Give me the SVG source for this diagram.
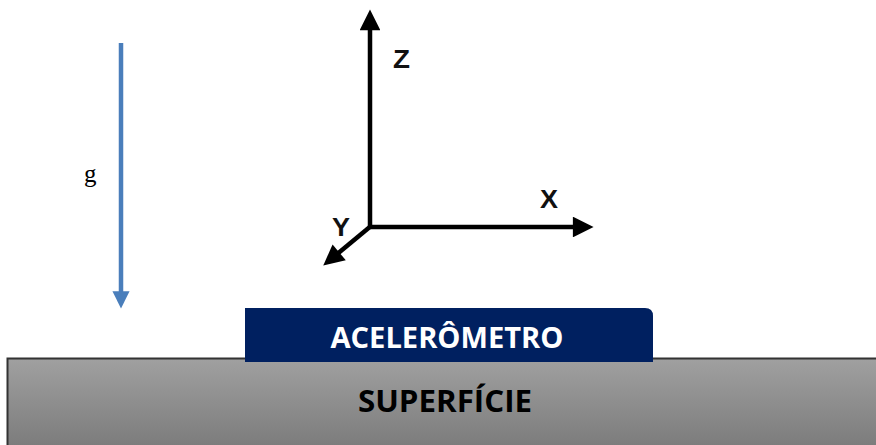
<svg xmlns="http://www.w3.org/2000/svg" width="876" height="445" viewBox="0 0 876 445">
<style>
.axis{stroke:#000;stroke-width:4.5;fill:none}
.ax{font-family:"Liberation Sans",Arial,sans-serif;font-size:25px;font-weight:bold;fill:#111}
.lbl{font-family:"Open Sans","Liberation Sans",sans-serif;font-weight:bold}
</style>
<defs>
<linearGradient id="gs" x1="0" y1="0" x2="0" y2="1">
<stop offset="0" stop-color="#a0a0a0"/>
<stop offset="1" stop-color="#777"/>
</linearGradient>
<marker id="ah" viewBox="0 0 10 10" refX="2" refY="5" markerWidth="5" markerHeight="4.6" markerUnits="strokeWidth" orient="auto"><path d="M0,0 L10,5 L0,10 z" fill="#000"/></marker>
<marker id="ab" viewBox="0 0 10 10" refX="1" refY="5" markerWidth="4" markerHeight="3.8" markerUnits="strokeWidth" orient="auto"><path d="M0,0 L10,5 L0,10 z" fill="#4a7ebb"/></marker>
</defs>
<g id="superficie">
<rect x="7.5" y="358.5" width="880" height="100" fill="url(#gs)" stroke="#333" stroke-width="2"/>
<text class="lbl" x="445" y="412" font-size="30" fill="#000" text-anchor="middle" textLength="174" lengthAdjust="spacingAndGlyphs">SUPERFÍCIE</text>
</g>
<g id="acelerometro">
<path d="M245,308 H645 Q653,308 653,316 V362 H245 Z" fill="#002060"/>
<text class="lbl" x="447" y="348" font-size="29" fill="#fff" text-anchor="middle" textLength="233" lengthAdjust="spacingAndGlyphs">ACELERÔMETRO</text>
</g>
<g id="connectors">
<line id="g-arrow" x1="121" y1="43" x2="121" y2="293" stroke="#4a7ebb" stroke-width="4.5" marker-end="url(#ab)"/>
<line id="z-axis" class="axis" x1="370" y1="227" x2="370" y2="26" marker-end="url(#ah)"/>
<line id="x-axis" class="axis" x1="368" y1="227" x2="577" y2="227" marker-end="url(#ah)"/>
<line id="y-axis" class="axis" x1="371" y1="226" x2="336" y2="255" marker-end="url(#ah)"/>
</g>
<g id="labels">
<text class="ax" x="393" y="68" textLength="17" lengthAdjust="spacingAndGlyphs">Z</text>
<text class="ax" x="540" y="208" textLength="18" lengthAdjust="spacingAndGlyphs">X</text>
<text class="ax" x="332" y="236" textLength="18" lengthAdjust="spacingAndGlyphs">Y</text>
<text x="84" y="182" font-family="'Liberation Serif','Times New Roman',serif" font-size="25" fill="#000">g</text>
</g>
</svg>
